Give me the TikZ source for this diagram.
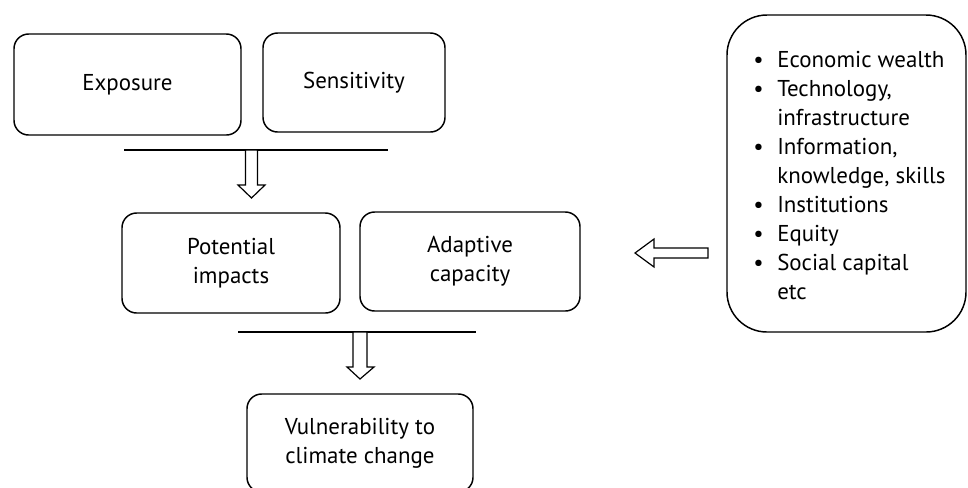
\documentclass[tikz,border=0pt]{standalone}
\usepackage{fontspec}
\setmainfont{PT Sans}
\newcommand{\bul}{\makebox[18pt][l]{\textbullet}}
\newcommand{\nobul}{\hspace*{18pt}}
\begin{document}
\begin{tikzpicture}[x=0.75pt,y=0.75pt,yscale=-1,xscale=1,
  box/.style={draw, line width=1.1pt, rounded corners=11pt, align=center, inner sep=0pt, font=\fontsize{17.2}{22}\selectfont},
  hollow/.style={draw, line width=0.9pt, fill=white}]
\useasboundingbox (0,0) rectangle (968,487);

%Boxes
\node [box, minimum width=170.25pt, minimum height=75.75pt] (expo) at (127.5,84.5) {Exposure};
\node [box, minimum width=136.5pt, minimum height=74.25pt] (sens) at (354,82.5) {Sensitivity};
\node [box, minimum width=163.5pt, minimum height=75pt] (pot) at (231,263) {Potential\\impacts};
\node [box, minimum width=165pt, minimum height=74.25pt] (adap) at (470,261.5) {Adaptive\\capacity};
\node [box, minimum width=169.5pt, minimum height=73.5pt] (vuln) at (360,443) {Vulnerability to\\climate change};
\node [box, rounded corners=30pt, minimum width=179.25pt, minimum height=237.75pt] (fact) at (846.5,173.5) {};

% Factor list
\node [anchor=north west, inner sep=0pt, align=left, font=\fontsize{17.2}{21.75}\selectfont] (list) at (753,51)
  {\bul Economic wealth\\
   \bul Technology,\\
   \nobul infrastructure\\
   \bul Information,\\
   \nobul knowledge, skills\\
   \bul Institutions\\
   \bul Equity\\
   \bul Social capital\\
   \nobul etc};

%Straight Lines
\coordinate (l1a) at (124,150);
\coordinate (l1b) at (388,150);
\coordinate (l2a) at (238,332);
\coordinate (l2b) at (476,332);
\draw [line width=0.9pt] (l1a) -- (l1b);
\draw [line width=0.9pt] (l2a) -- (l2b);

%Block arrows
\draw [hollow] (245.5,150) -- (245.5,185) -- (238,185) -- (251.5,198) -- (265,185) -- (257.5,185) -- (257.5,150) -- cycle;
\draw [hollow] (353,332) -- (353,367) -- (347,367) -- (360,379) -- (374,367) -- (367,367) -- (367,332) -- cycle;
\draw [hollow] (708,248) -- (654,248) -- (654,239) -- (635,253) -- (654,267) -- (654,258) -- (708,258) -- cycle;

\end{tikzpicture}
\end{document}
